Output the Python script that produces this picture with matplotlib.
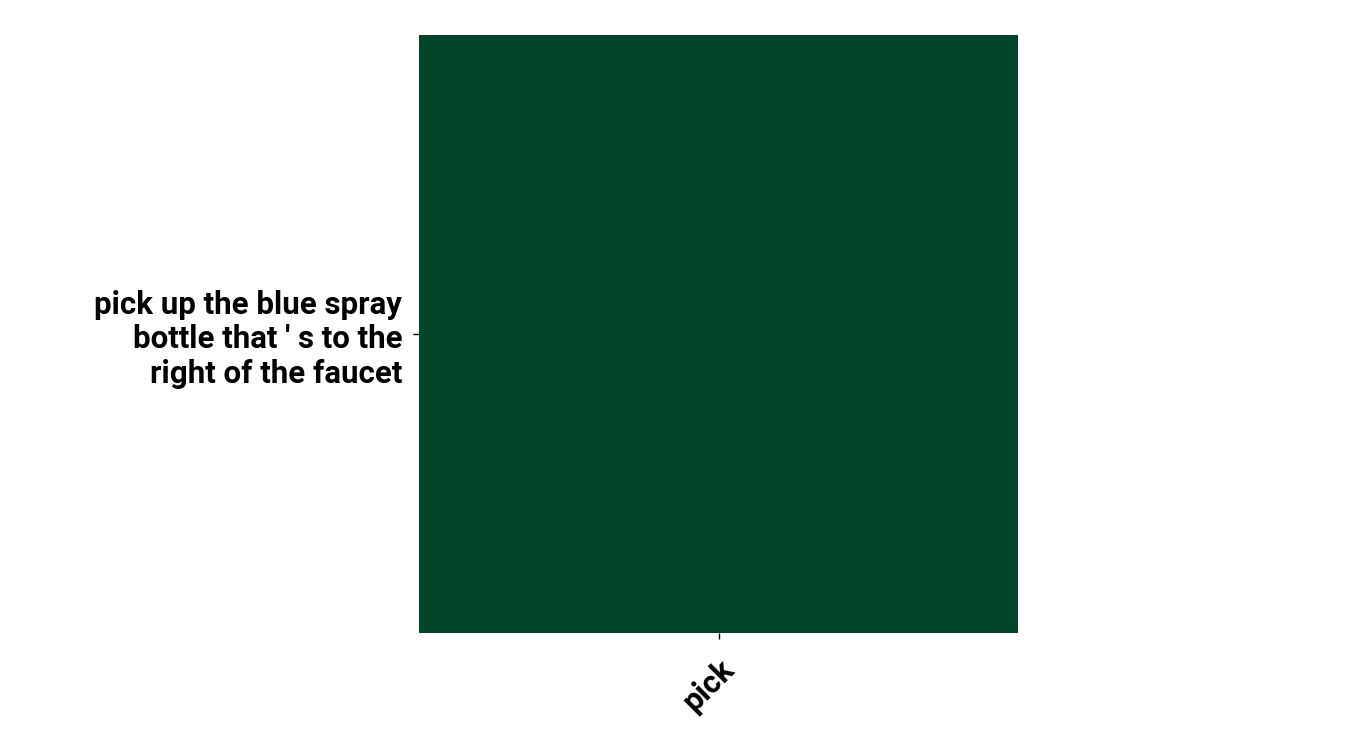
#!/usr/bin/env python3
import numpy as np
import matplotlib
matplotlib.use('Agg')
import matplotlib.pyplot as plt
from matplotlib.colors import LinearSegmentedColormap

# attention of each instruction over each action token
instructions = ["pick up the blue spray\nbottle that ' s to the\nright of the faucet"]
actions = ['pick']
weights = np.array([[1.0]])

plt.rcParams['font.family'] = ['Roboto', 'DejaVu Sans']
plt.rcParams['font.weight'] = 'bold'

cmap = LinearSegmentedColormap.from_list('grn', ['#f7fcf5', '#03452b'])

fig = plt.figure(figsize=(13.5, 7.5), dpi=100)
ax = fig.add_axes([0.3104, 0.156, 0.4437, 0.7973])
ax.imshow(weights, cmap=cmap, vmin=0, vmax=1, aspect='auto')

ax.set_xticks(np.arange(len(actions)))
ax.set_xticklabels(actions, rotation=45, ha='right', rotation_mode='anchor',
                   fontsize=22.5, fontweight='bold')
ax.set_yticks(np.arange(len(instructions)))
ax.set_yticklabels(instructions, fontsize=22.5, fontweight='bold',
                   linespacing=1.2)
ax.tick_params(axis='y', length=4, width=1, pad=8)
ax.tick_params(axis='x', length=4, width=1, pad=11)
for s in ax.spines.values():
    s.set_visible(False)

fig.savefig('out.png', dpi=100)
